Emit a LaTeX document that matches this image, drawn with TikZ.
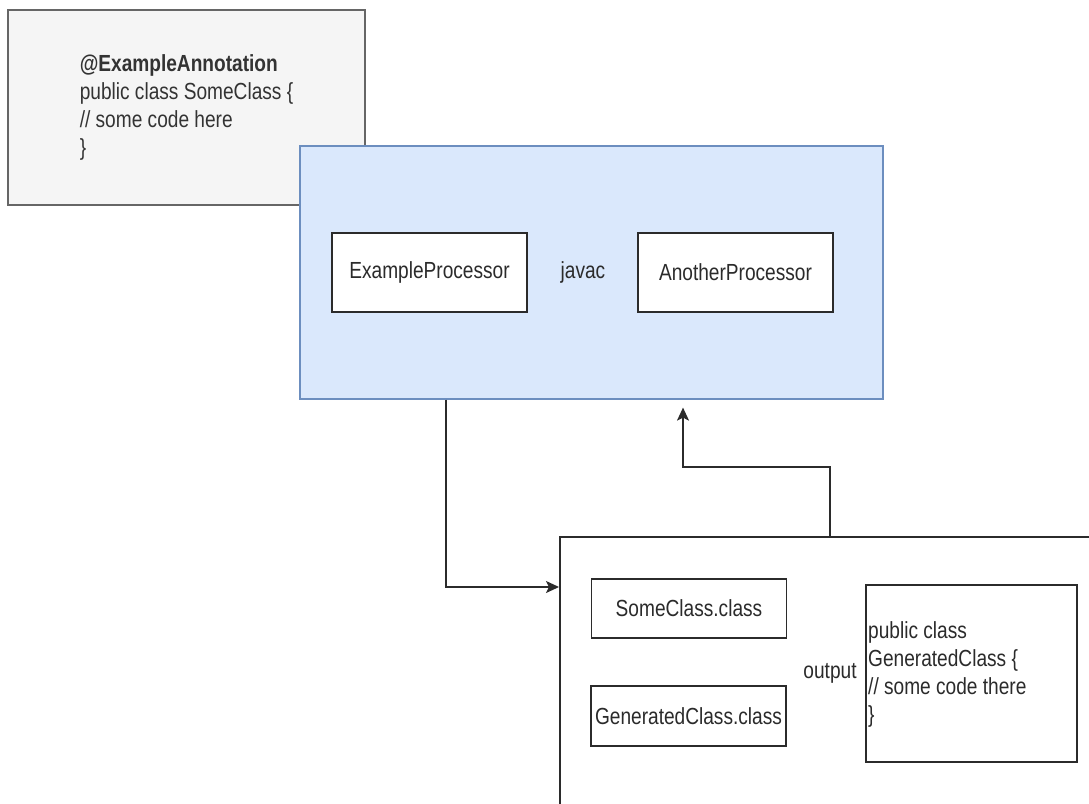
\documentclass[tikz,border=0pt]{standalone}
\usepackage{fontspec}
\setmainfont[FakeStretch=0.82]{Liberation Sans}
\usetikzlibrary{arrows.meta}
\definecolor{ink}{HTML}{2B2B2B}
\definecolor{codefill}{HTML}{F5F5F5}
\definecolor{codeline}{HTML}{666666}
\definecolor{codetext}{HTML}{333333}
\definecolor{javacfill}{HTML}{DAE8FC}
\definecolor{javacline}{HTML}{6C8EBF}
\tikzset{
  box/.style={draw=ink, line width=1.5pt, fill=white, inner sep=2pt,
    minimum width=195, minimum height=60, text=ink},
  flow/.style={draw=ink, line width=1.5pt, -{Stealth[length=13pt,width=12pt,inset=3pt]}}
}
\begin{document}
\begin{tikzpicture}[x=1pt, y=-1pt, font=\fontsize{23.3}{28}\selectfont]
      \useasboundingbox (0,0) rectangle (1089,803);
      \clip (0,0) rectangle (1089,803);
      \node[draw=codeline, fill=codefill, line width=1.2pt, minimum width=357,
        minimum height=195, align=left, text=codetext] (source) at (186.5,107.5)
        {\textbf{@ExampleAnnotation}\\public class SomeClass \{\\// some code here\\\}};
      \node[draw=javacline, fill=javacfill, line width=1.2pt, minimum width=583,
        minimum height=253] (javac) at (591.5,272.5) {};
      \node[text=ink] (javaclabel) at (583,272) {javac};
      \node[box, minimum height=79] (exproc) at (429.5,272.5) {ExampleProcessor};
      \node[box, minimum height=79] (anproc) at (735.5,272.5) {AnotherProcessor};
      \node[box, anchor=north west, minimum width=600, minimum height=320] (outbox)
        at (559,536) {};
      \node[box, minimum height=59] (someclass) at (689,608.5) {SomeClass.class};
      \node[box] (genclass) at (688.5,716) {GeneratedClass.class};
      \node[box, minimum width=211, minimum height=177] (gencode) at (971.5,673.5) {};
      \node[anchor=west, align=left, inner sep=0, text=ink] (gentext) at (868,674)
        {public class\\GeneratedClass \{\\// some code there\\\}};
      \node[text=ink] (output) at (830,673) {output};
      % compile and feed back
      \coordinate (dropx) at (446,587);
      \coordinate (risex) at (830,467);
      \coordinate (risetip) at (683,467);
      \draw[flow] (javac.south -| dropx) |- (outbox.west |- dropx);
      \draw[flow, shorten >=8pt] (outbox.north -| risex) -- (risex) -- (risetip)
        -- (javac.south -| risetip);
    \end{tikzpicture}
\end{document}
